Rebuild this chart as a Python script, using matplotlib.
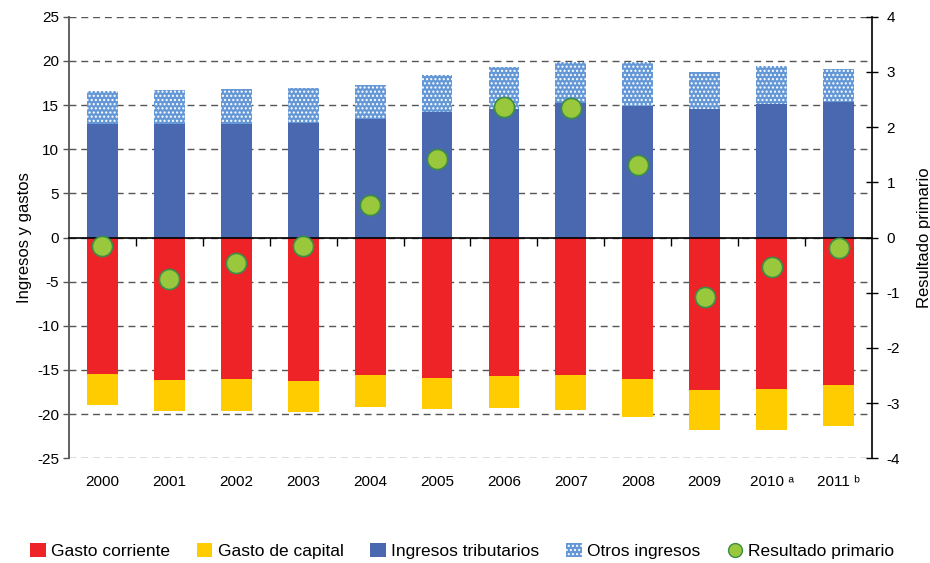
import matplotlib
matplotlib.use("Agg")
import matplotlib.pyplot as plt
import numpy as np
from matplotlib.patches import Patch
from matplotlib.lines import Line2D

plt.rcParams['font.family'] = ['Liberation Sans', 'DejaVu Sans']
plt.rcParams['axes.unicode_minus'] = False
plt.rcParams['hatch.linewidth'] = 1.0

years = ['2000', '2001', '2002', '2003', '2004', '2005', '2006', '2007',
         '2008', '2009', '2010 ᵃ', '2011 ᵇ']
gasto_corriente = [-15.4, -16.1, -16.0, -16.2, -15.6, -15.9, -15.7, -15.6,
                   -16.0, -17.3, -17.2, -16.7]
gasto_capital = [-3.6, -3.6, -3.6, -3.6, -3.6, -3.5, -3.6, -3.9,
                 -4.3, -4.45, -4.55, -4.6]
ingresos_tributarios = [12.8, 12.8, 12.9, 13.0, 13.4, 14.2, 14.6, 15.2,
                        14.9, 14.6, 15.1, 15.3]
otros_ingresos = [3.8, 3.9, 3.9, 3.9, 3.9, 4.2, 4.7, 4.7,
                  5.0, 4.1, 4.3, 3.8]
resultado_primario = [-0.15, -0.75, -0.46, -0.16, 0.58, 1.42, 2.36, 2.35,
                      1.31, -1.07, -0.53, -0.19]

c_red = '#EE2327'
c_yel = '#FFCC00'
c_blue = '#4A68B0'
c_otros = '#6497D6'
c_green = '#99C83C'
c_green_edge = '#3C8C4A'

fig = plt.figure(figsize=(9.3, 5.63), dpi=100)
ax = fig.add_axes([0.0742, 0.186, 0.9376 - 0.0742, 0.9703 - 0.186])
x = np.arange(len(years))
w = 0.46

ax.bar(x, gasto_corriente, w, color=c_red, zorder=2)
ax.bar(x, gasto_capital, w, bottom=gasto_corriente, color=c_yel, zorder=2)
ax.bar(x, ingresos_tributarios, w, color=c_blue, zorder=2)
ax.bar(x, otros_ingresos, w, bottom=ingresos_tributarios, facecolor=c_otros,
       edgecolor='white', hatch='....', linewidth=0, zorder=2)

ax.set_xlim(-0.5, len(years) - 0.5)
ax.set_ylim(-25, 25)
ax.set_yticks(np.arange(-25, 26, 5))
ax.yaxis.grid(True, linestyle=(0, (5, 3.5)), color='#555555', linewidth=1.0)
ax.set_axisbelow(True)

for s in ['top', 'right']:
    ax.spines[s].set_visible(False)
ax.spines['left'].set_color('#555555')
ax.spines['left'].set_linewidth(1.3)
ax.spines['bottom'].set_position(('data', 0))
ax.spines['bottom'].set_color('black')
ax.spines['bottom'].set_linewidth(1.2)
ax.spines['bottom'].set_zorder(3)
ax.set_xticks(np.arange(0.5, len(years) - 1, 1))
ax.tick_params(axis='x', direction='out', length=6, width=1, labelbottom=False)
ax.tick_params(axis='y', direction='out', length=4, width=1, color='#555555',
               labelsize=11, pad=3)
ax.set_ylabel('Ingresos y gastos', fontsize=12, labelpad=4)

sec = ax.secondary_xaxis('bottom')
sec.set_xticks(x)
sec.set_xticklabels(years)
sec.tick_params(length=0, labelsize=11, pad=12)
sec.spines['bottom'].set_visible(False)

ax2 = ax.twinx()
ax2.set_ylim(-4, 4)
ax2.set_yticks(np.arange(-4, 5, 1))
ax2.plot(x, resultado_primario, linestyle='none', marker='o', markersize=14.5,
         markerfacecolor=c_green, markeredgecolor=c_green_edge,
         markeredgewidth=1.2, zorder=5)
for s in ['top', 'left', 'bottom']:
    ax2.spines[s].set_visible(False)
ax2.spines['right'].set_color('black')
ax2.spines['right'].set_linewidth(1.2)
ax2.tick_params(axis='y', direction='inout', length=9, width=1, labelsize=11, pad=6)
ax2.set_ylabel('Resultado primario', fontsize=12, labelpad=12)

handles = [
    Patch(facecolor=c_red, label='Gasto corriente'),
    Patch(facecolor=c_yel, label='Gasto de capital'),
    Patch(facecolor=c_blue, label='Ingresos tributarios'),
    Patch(facecolor=c_otros, edgecolor='white', hatch='....', linewidth=0,
          label='Otros ingresos'),
    Line2D([], [], linestyle='none', marker='o', markersize=10,
           markerfacecolor=c_green, markeredgecolor=c_green_edge,
           label='Resultado primario'),
]
fig.legend(handles=handles, loc='center', bbox_to_anchor=(0.497, 1 - 551 / 563),
           ncol=5, frameon=False, fontsize=12.5, handlelength=0.9,
           handleheight=0.9, handletextpad=0.3, columnspacing=1.55)

fig.savefig('out.png', dpi=100)
